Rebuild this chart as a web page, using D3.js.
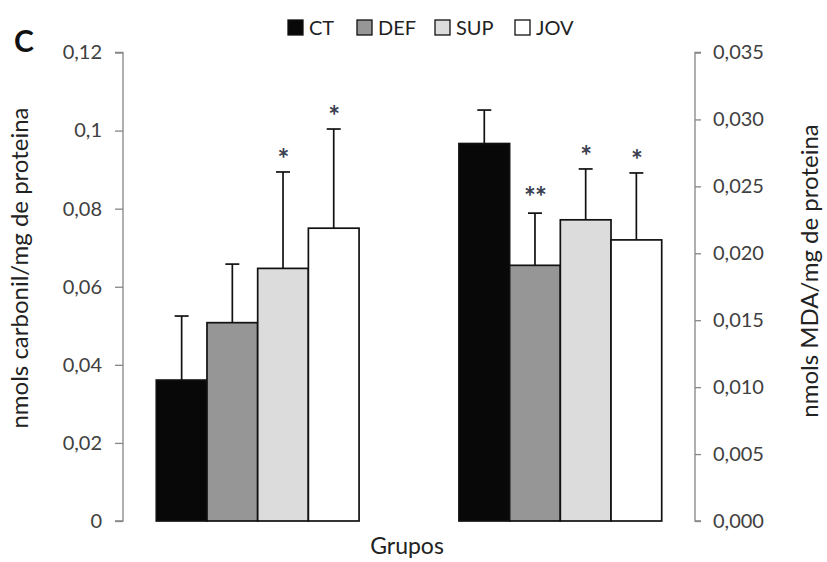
<!DOCTYPE html>
<html>
<head>
<meta charset="utf-8">
<script src="https://cdn.jsdelivr.net/npm/d3@7"></script>
<style>
  body { margin: 0; background: #fff; }
  svg { font-family: Lato, 'Noto Sans', sans-serif; }
</style>
</head>
<body>
<svg id="chart" width="827" height="562"></svg>
<script>
const groups = ['carbonil', 'MDA']
const series = ['CT', 'DEF', 'SUP', 'JOV']
const seriesColors = ['#080808', '#969696', '#dcdcdc', '#ffffff']

const carbonilMean = [0.0361, 0.0508, 0.0647, 0.075]
const carbonilErr = [0.0164, 0.015, 0.0247, 0.0254]
const carbonilSig = ['', '', '*', '*']

const mdaMean = [0.0282, 0.0191, 0.0225, 0.021]
const mdaErr = [0.0025, 0.0039, 0.0038, 0.005]
const mdaSig = ['', '**', '*', '*']

const leftTicks = [0, 0.02, 0.04, 0.06, 0.08, 0.1, 0.12]
const rightTicks = [0, 0.005, 0.01, 0.015, 0.02, 0.025, 0.03, 0.035]

const svg = d3.select('#chart')
const locale = d3.formatLocale({ decimal: ',', thousands: '.', grouping: [3], currency: ['', ''] })

const plot = { left: 123, right: 695, top: 52.5, bottom: 521 }

const x0 = d3.scaleBand().domain(groups).range([plot.left, plot.right])
  .paddingInner(0.33).paddingOuter(0.11)
const x1 = d3.scaleBand().domain(series).range([0, x0.bandwidth()])
const color = d3.scaleOrdinal().domain(series).range(seriesColors)

const yLeft = d3.scaleLinear().domain([0, 0.12]).range([plot.bottom, plot.top])
const yRight = d3.scaleLinear().domain([0, 0.035]).range([plot.bottom, plot.top])

// axes
const leftAxis = svg.append('g')
  .attr('transform', `translate(${plot.left},0)`)
  .call(d3.axisLeft(yLeft).tickValues(leftTicks).tickSize(8).tickPadding(13)
    .tickFormat(locale.format('~g')))
const rightAxis = svg.append('g')
  .attr('transform', `translate(${plot.right},0)`)
  .call(d3.axisRight(yRight).tickValues(rightTicks).tickSize(6).tickPadding(12)
    .tickFormat(locale.format('.3f')))

;[leftAxis, rightAxis].forEach((ax) => {
  ax.select('.domain').attr('stroke', '#868686').attr('stroke-width', 1.3)
    .attr('d', ax === leftAxis
      ? `M-8,${plot.top}H0V${plot.bottom}H-8`
      : `M6,${plot.top}H0V${plot.bottom}H6`)
  ax.selectAll('.tick line').attr('stroke', '#868686').attr('stroke-width', 1.3)
  ax.selectAll('.tick text').attr('fill', '#404040')
    .style('font-family', 'Lato, sans-serif').style('font-size', '20px')
})

// bars
const groupData = [
  { key: 'carbonil', mean: carbonilMean, err: carbonilErr, sig: carbonilSig, y: yLeft },
  { key: 'MDA', mean: mdaMean, err: mdaErr, sig: mdaSig, y: yRight }
]

const gG = svg.append('g').selectAll('g')
  .data(groupData)
  .enter()
  .append('g')
  .attr('transform', (d) => `translate(${x0(d.key)},0)`)

gG.each(function (g) {
  const sel = d3.select(this)
  const rows = series.map((s, i) => ({ s, mean: g.mean[i], err: g.err[i], sig: g.sig[i] }))
  const cx = (d) => x1(d.s) + x1.bandwidth() / 2

  // error bars (upper only)
  sel.selectAll('line.err')
    .data(rows)
    .enter()
    .append('line')
    .attr('x1', cx)
    .attr('x2', cx)
    .attr('y1', (d) => g.y(d.mean))
    .attr('y2', (d) => g.y(d.mean + d.err))
    .attr('stroke', '#111')
    .attr('stroke-width', 1.7)
  sel.selectAll('line.cap')
    .data(rows)
    .enter()
    .append('line')
    .attr('x1', (d) => cx(d) - 7)
    .attr('x2', (d) => cx(d) + 7)
    .attr('y1', (d) => g.y(d.mean + d.err))
    .attr('y2', (d) => g.y(d.mean + d.err))
    .attr('stroke', '#111')
    .attr('stroke-width', 1.7)

  sel.selectAll('rect')
    .data(rows)
    .enter()
    .append('rect')
    .attr('x', (d) => x1(d.s))
    .attr('width', x1.bandwidth())
    .attr('y', (d) => g.y(d.mean))
    .attr('height', (d) => g.y(0) - g.y(d.mean))
    .attr('fill', (d) => color(d.s))
    .attr('stroke', '#111')
    .attr('stroke-width', 1.7)

  sel.selectAll('text.sig')
    .data(rows)
    .enter()
    .append('text')
    .attr('x', cx)
    .attr('y', (d) => g.y(d.mean + d.err) - (d.sig === '**' ? 6 : 3))
    .attr('text-anchor', 'middle')
    .attr('fill', '#3a4050')
    .style('font-size', '28px')
    .style('font-weight', 'bold')
    .style('letter-spacing', '-1px')
    .text((d) => d.sig)
})

// legend
const legendX = [288, 357, 435, 515]
const legend = svg.append('g').selectAll('g')
  .data(series)
  .enter()
  .append('g')
  .attr('transform', (d, i) => `translate(${legendX[i]},20)`)
legend.append('rect')
  .attr('width', 15).attr('height', 15)
  .attr('fill', (d) => color(d))
  .attr('stroke', '#111').attr('stroke-width', 1.3)
legend.append('text')
  .attr('x', 21).attr('y', 15)
  .attr('fill', '#222')
  .style('font-size', '20px')
  .text((d) => d)

// titles
svg.append('text')
  .attr('x', 14).attr('y', 52)
  .style('font-size', '30px').style('font-weight', 'bold')
  .attr('fill', '#111')
  .text('C')

svg.append('text')
  .attr('transform', `translate(28,268) rotate(-90)`)
  .attr('text-anchor', 'middle')
  .attr('fill', '#222')
  .style('font-size', '24px')
  .text('nmols carbonil/mg de proteina')

svg.append('text')
  .attr('transform', `translate(818,271) rotate(-90)`)
  .attr('text-anchor', 'middle')
  .attr('fill', '#222')
  .style('font-size', '24px')
  .text('nmols MDA/mg de proteina')

svg.append('text')
  .attr('x', 407)
  .attr('y', 554)
  .attr('text-anchor', 'middle')
  .attr('fill', '#222')
  .style('font-size', '23px')
  .text('Grupos')
</script>
</body>
</html>
